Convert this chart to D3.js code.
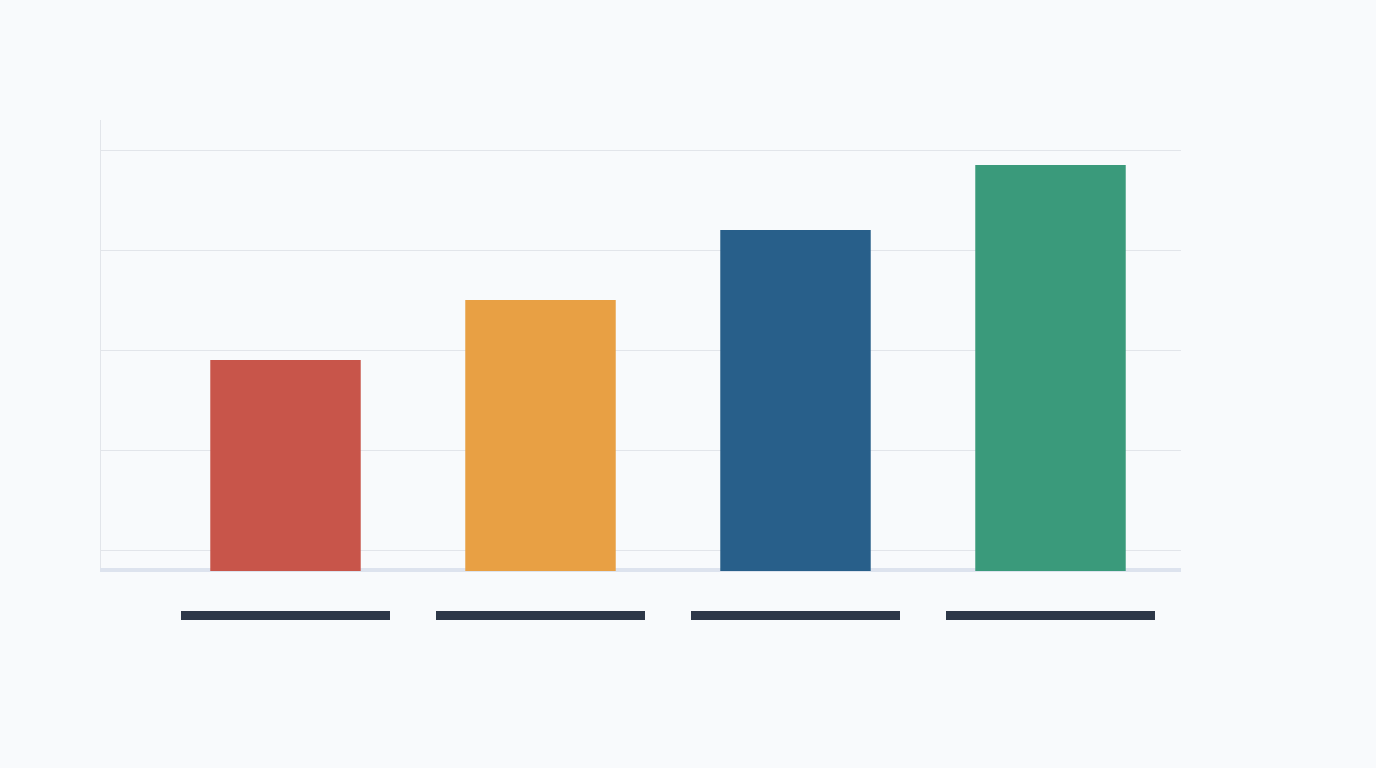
<!DOCTYPE html>
<html>
<head>
<meta charset="utf-8">
<script src="https://cdn.jsdelivr.net/npm/d3@7"></script>
<style>
  html, body { margin: 0; padding: 0; background: #f8fafc; }
  svg { display: block; }
</style>
</head>
<body>
<div id="chart"></div>
<script>
// chart data
var categories = ["A", "B", "C", "D"];
var values = [38, 50, 64, 77];
var colors = ["#c8554a", "#e8a044", "#285f8a", "#3a9a7b"];
var yTicks = [0, 20, 40, 60, 80];
var yDomain = [-4, 86];

var width = 1376, height = 768;

var svg = d3.select("#chart")
  .append("svg")
  .attr("width", width)
  .attr("height", height);

svg.append("rect")
  .attr("width", width)
  .attr("height", height)
  .attr("fill", "#f8fafc");

var plotLeft = 100, plotRight = 1181, plotTop = 120, plotBottom = 570;

var x = d3.scaleBand()
  .domain(categories)
  .range([158, 1178])
  .paddingInner(0.41)
  .paddingOuter(0.205);

var y = d3.scaleLinear()
  .domain(yDomain)
  .range([plotBottom, plotTop]);

// gridlines
svg.append("g")
  .selectAll("line")
  .data(yTicks)
  .enter()
  .append("line")
  .attr("x1", plotLeft)
  .attr("x2", plotRight)
  .attr("y1", function(d) { return y(d) + 0.5; })
  .attr("y2", function(d) { return y(d) + 0.5; })
  .attr("stroke", "#e2e5ea")
  .attr("stroke-width", 1);

// left axis line
svg.append("line")
  .attr("x1", plotLeft + 0.5)
  .attr("x2", plotLeft + 0.5)
  .attr("y1", plotTop)
  .attr("y2", plotBottom)
  .attr("stroke", "#e2e5ea")
  .attr("stroke-width", 1);

// baseline
svg.append("rect")
  .attr("x", plotLeft)
  .attr("y", plotBottom - 2)
  .attr("width", plotRight - plotLeft)
  .attr("height", 4)
  .attr("fill", "#dde3ee");

// bars
svg.append("g")
  .selectAll("rect")
  .data(values)
  .enter()
  .append("rect")
  .attr("x", function(d, i) { return x(categories[i]); })
  .attr("y", function(d) { return y(d); })
  .attr("width", x.bandwidth())
  .attr("height", function(d) { return y(yDomain[0]) - y(d) + 1; })
  .attr("fill", function(d, i) { return colors[i]; });

// category labels (drawn as solid blocks in the reference)
var labelWidth = 209;
svg.append("g")
  .selectAll("rect")
  .data(categories)
  .enter()
  .append("rect")
  .attr("aria-label", function(d) { return d; })
  .attr("x", function(d) { return x(d) + x.bandwidth() / 2 - labelWidth / 2; })
  .attr("y", 611)
  .attr("width", labelWidth)
  .attr("height", 9)
  .attr("fill", "#2d3748");
</script>
</body>
</html>
